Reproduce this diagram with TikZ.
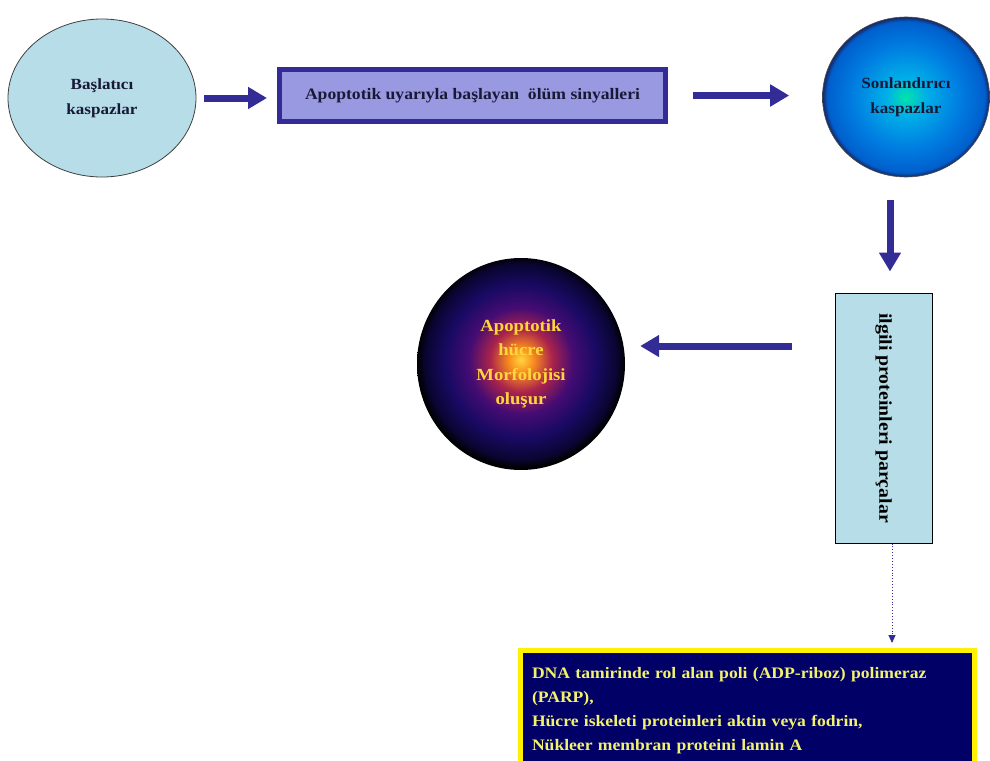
\documentclass[tikz,border=0pt]{standalone}
\usepackage{fontspec}
\setmainfont{Liberation Serif}[FakeStretch=1.1]
\usetikzlibrary{shapes.geometric,arrows.meta,calc}
\definecolor{arr}{RGB}{52,44,150}
\definecolor{aqua}{RGB}{183,222,232}
\definecolor{sigfill}{RGB}{153,153,226}
\definecolor{sigline}{RGB}{52,44,150}
\definecolor{navybg}{RGB}{0,0,102}
\definecolor{paleyel}{RGB}{242,242,110}
\definecolor{gold}{RGB}{255,215,60}
\definecolor{darktxt}{RGB}{25,25,55}
\definecolor{sA}{RGB}{0,228,170}
\definecolor{sB}{RGB}{0,175,232}
\definecolor{sC}{RGB}{0,125,225}
\definecolor{sD}{RGB}{0,95,205}
\definecolor{sE}{RGB}{20,45,110}
\definecolor{mA}{RGB}{255,215,60}
\definecolor{mB}{RGB}{248,140,30}
\definecolor{mC}{RGB}{170,35,75}
\definecolor{mD}{RGB}{70,12,115}
\definecolor{mE}{RGB}{25,10,100}
\definecolor{mF}{RGB}{10,5,50}
\pgfdeclareradialshading{sonlshade}{\pgfpoint{0bp}{0bp}}{color(0bp)=(sA); color(6bp)=(sB); color(16bp)=(sC); color(23.6bp)=(sD); color(24.8bp)=(sE); color(25bp)=(sE); color(50bp)=(sE)}
\pgfdeclareradialshading{morphshade}{\pgfpoint{0bp}{1bp}}{color(0bp)=(mA); color(3bp)=(mB); color(7.5bp)=(mC); color(12.5bp)=(mD); color(18bp)=(mE); color(23bp)=(mF); color(25bp)=(black); color(50bp)=(black)}
\tikzset{
  bigarr/.style={draw=arr, line width=7pt, -{Triangle[width=21pt,length=19pt]}},
  dotarr/.style={draw=arr, line width=0.9pt, dotted, -{Triangle[width=7pt,length=8pt]}},
  circtext/.style={align=center, text=darktxt, font=\bfseries\fontsize{15.5}{25}\selectfont},
}
\begin{document}
\begin{tikzpicture}[x=1pt,y=-1pt]
\useasboundingbox (0,0) rectangle (990,760);
\fill[white] (0,0) rectangle (990,760);

\node[ellipse, draw=black!75, line width=0.8pt, fill=aqua, minimum width=188pt, minimum height=158pt, inner sep=0pt, circtext] (bas) at (102,98) {Başlatıcı\\kaspazlar};

\node[rectangle, draw=sigline, line width=5pt, fill=sigfill, minimum width=386pt, minimum height=52pt, inner sep=0pt, text=darktxt, font=\bfseries\fontsize{16}{20}\selectfont] (sig) at (472.5,95.5) {Apoptotik uyarıyla başlayan\ \ ölüm sinyalleri};

\node[ellipse, shading=sonlshade, draw=black!70, line width=0.6pt, minimum width=167pt, minimum height=160pt, inner sep=0pt, circtext] (son) at (906,97) {Sonlandırıcı\\kaspazlar};

\node[rectangle, draw=black, line width=1pt, fill=aqua, minimum width=250pt, minimum height=97pt, inner sep=0pt, rotate=-90, text=black, font=\bfseries\fontsize{18}{20}\selectfont] (ilg) at (883.5,418) {ilgili proteinleri parçalar};

\node[ellipse, shading=morphshade, minimum width=208pt, minimum height=212pt, inner sep=0pt, align=center, text=gold, font=\bfseries\fontsize{17}{24.5}\selectfont] (mor) at (521,364) {Apoptotik\\hücre\\Morfolojisi\\oluşur};

\node[rectangle, draw=yellow, line width=5pt, fill=navybg, anchor=north west, inner xsep=11.5pt, inner ysep=15.5pt, text width=431pt, align=left, text height=12pt, text depth=110pt, text=paleyel, font=\bfseries\fontsize{16}{24}\selectfont] (dna) at (518,648) {DNA tamirinde rol alan poli (ADP-riboz) polimeraz\\(PARP),\\Hücre iskeleti proteinleri aktin veya fodrin,\\Nükleer membran proteini lamin A};

\draw[bigarr, shorten <=8pt, shorten >=10pt] (bas.east) -- (bas.east -| sig.west);
\draw[bigarr, shorten <=25pt, shorten >=33pt] (sig.east) -- (sig.east -| son.west);
\coordinate (dn) at ($(son.south -| ilg.west)+(6.5,0)$);
\draw[bigarr, shorten <=23pt, shorten >=21pt] (dn) -- (dn |- ilg.west);
\coordinate (lf) at ($(ilg.south)+(0,-72)$);
\draw[bigarr, shorten <=43pt, shorten >=15pt] (lf) -- (lf -| mor.east);
\coordinate (dt) at ($(ilg.east)+(8.5,0)$);
\draw[dotarr, shorten >=5pt] (dt) -- (dt |- dna.north);
\end{tikzpicture}
\end{document}
